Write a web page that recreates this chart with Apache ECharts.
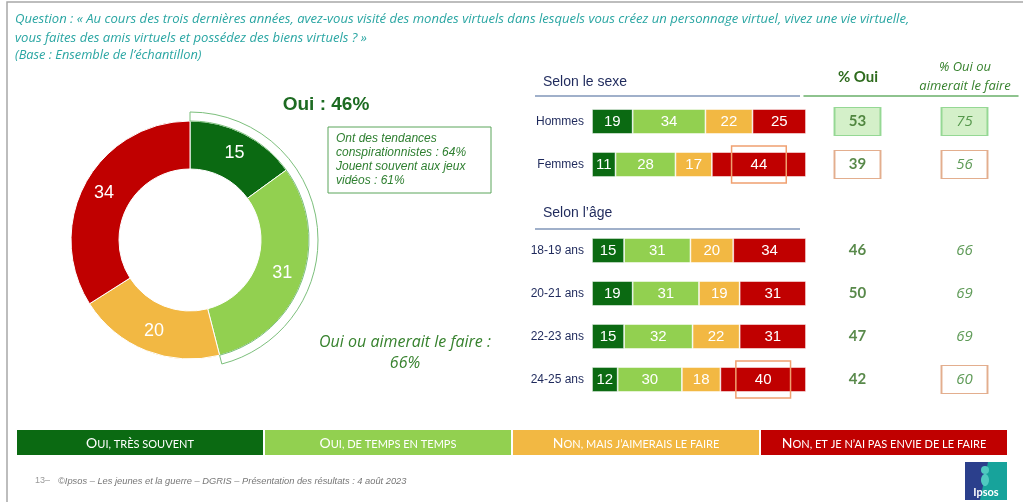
<!DOCTYPE html>
<html>
<head>
<meta charset="utf-8">
<script src="https://cdn.jsdelivr.net/npm/echarts@6.0.0/dist/echarts.min.js"></script>
<style>
  html, body { margin: 0; padding: 0; background: #fff; }
  #chart { width: 1023px; height: 502px; }
</style>
</head>
<body>
<div id="chart"></div>
<script>
// --- data ---
const legendLabels = ['Oui, très souvent', 'Oui, de temps en temps', 'Non, mais j’aimerais le faire', 'Non, et je n’ai pas envie de le faire']
const donutValues = [15, 31, 20, 34]

const sexRows = ['Hommes', 'Femmes']
const ageRows = ['18-19 ans', '20-21 ans', '22-23 ans', '24-25 ans']
const tresSouvent = [19, 11, 15, 19, 15, 12]
const deTempsEnTemps = [34, 28, 31, 31, 32, 30]
const nonMaisAimerait = [22, 17, 20, 19, 22, 18]
const nonPasEnvie = [25, 44, 34, 31, 31, 40]
const pctOui = [53, 39, 46, 50, 47, 42]
const pctOuiOuAimerait = [75, 56, 66, 69, 69, 60]

const ouiTotal = 46
const ouiOuAimeraitTotal = 66
const noteLines = ['Ont des tendances', 'conspirationnistes : 64%', 'Jouent souvent aux jeux', 'vidéos : 61%']
const questionLines = [
  'Question : « Au cours des trois dernières années, avez-vous visité des mondes virtuels dans lesquels vous créez un personnage virtuel, vivez une vie virtuelle,',
  'vous faites des amis virtuels et possédez des biens virtuels ? »'
]
const baseLine = '(Base : Ensemble de l’échantillon)'
const footer = '©Ipsos – Les jeunes et la guerre – DGRIS – Présentation des résultats : 4 août 2023'

// --- styles ---
const colors = ['#0b6a12', '#92d050', '#f2b843', '#c00000']
const navy = '#1f2a5c'
const darkGreen = '#1d6b22'
const midGreen = '#37822e'
const teal = '#2aa6a3'

const rows = [...sexRows, ...ageRows]
const categories = [...sexRows, '', ...ageRows]
const gap = (arr) => [...arr.slice(0, sexRows.length), '-', ...arr.slice(sexRows.length)]
const catIndex = (r) => categories.indexOf(r)

const redBoxRows = ['Femmes', '24-25 ans']
const ouiBox = { Hommes: 'green', Femmes: 'orange' }
const aimeraitBox = { Hommes: 'green', Femmes: 'orange', '24-25 ans': 'orange' }
const boxStyle = (kind) => {
  if (kind === 'green') return { color: '#c9ecbb', borderColor: '#7fcf7f', borderWidth: 1.5 }
  if (kind === 'orange') return { color: '#fff', borderColor: '#dc9a72', borderWidth: 1.5 }
  return { color: 'rgba(0,0,0,0)', borderWidth: 0 }
}

const smallCaps = (s) => {
  let out = ''
  let cur = ''
  let type = null
  for (const ch of s) {
    const t = ch !== ch.toLowerCase() ? 'b' : 's'
    if (t !== type) {
      if (cur) out += '{' + type + '|' + cur + '}'
      cur = ''
      type = t
    }
    cur += ch.toUpperCase()
  }
  if (cur) out += '{' + type + '|' + cur + '}'
  return out
}

const barSeries = [tresSouvent, deTempsEnTemps, nonMaisAimerait, nonPasEnvie].map((vals, k) => ({
  name: legendLabels[k],
  type: 'bar',
  stack: 'total',
  barWidth: 25,
  silent: true,
  itemStyle: { color: colors[k], borderColor: 'rgba(255,255,255,0.7)', borderWidth: 0.8 },
  label: {
    show: true,
    position: 'inside',
    color: '#fff',
    fontFamily: 'Liberation Sans',
    fontSize: 15
  },
  data: gap(vals).map((v, i) => {
    if (k === 3 && redBoxRows.includes(categories[i])) {
      return { value: v, label: { borderColor: '#f0a070', borderWidth: 1.5, padding: [11, 19] } }
    }
    return v
  })
}))

const columnSeries = [
  { vals: pctOui, boxes: ouiBox, x: 0, bold: true },
  { vals: pctOuiOuAimerait, boxes: aimeraitBox, x: 1, bold: false }
].map((c) => ({
  type: 'scatter',
  xAxisIndex: 1,
  yAxisIndex: 1,
  symbol: 'rect',
  symbolSize: [46, 28],
  silent: true,
  label: {
    show: true,
    position: 'inside',
    formatter: (p) => p.value[2],
    fontFamily: c.bold ? 'Lato' : 'Open Sans',
    fontSize: 15,
    fontWeight: c.bold ? 'bold' : 'normal',
    fontStyle: c.bold ? 'normal' : 'italic',
    color: c.bold ? '#2e6b1d' : midGreen
  },
  data: rows.map((r, i) => ({
    value: [c.x, catIndex(r), c.vals[i]],
    itemStyle: boxStyle(c.boxes[r])
  }))
}))

const graphic = [
  // slide frame
  { type: 'rect', shape: { x: 7, y: 2, width: 1040, height: 520 }, style: { fill: 'none', stroke: '#a8a8a8', lineWidth: 1.5 }, silent: true },
  { type: 'text', x: 15, y: 19, style: { text: questionLines[0], fill: teal, font: 'italic 13.1px Open Sans', verticalAlign: 'middle' } },
  { type: 'text', x: 15, y: 38, style: { text: questionLines[1], fill: teal, font: 'italic 13.1px Open Sans', verticalAlign: 'middle' } },
  { type: 'text', x: 15, y: 55, style: { text: baseLine, fill: teal, font: 'italic 12.8px Open Sans', verticalAlign: 'middle' } },
  // donut side
  { type: 'text', x: 326, y: 105, style: { text: 'Oui : ' + ouiTotal + '%', fill: darkGreen, font: 'bold 19px Liberation Sans', align: 'center', verticalAlign: 'middle' } },
  { type: 'rect', shape: { x: 328, y: 127, width: 163, height: 66 }, style: { fill: '#fff', stroke: '#5aa55a', lineWidth: 1 } },
  ...noteLines.map((t, i) => ({ type: 'text', x: 336, y: 139 + i * 14, style: { text: t, fill: '#2e7f30', font: 'italic 12px Liberation Sans', verticalAlign: 'middle' } })),
  { type: 'text', x: 405, y: 342, style: { text: 'Oui ou aimerait le faire :', fill: midGreen, font: 'italic 16px Open Sans', align: 'center', verticalAlign: 'middle' } },
  { type: 'text', x: 405, y: 363, style: { text: ouiOuAimeraitTotal + '%', fill: midGreen, font: 'italic 16px Open Sans', align: 'center', verticalAlign: 'middle' } },
  // right panel headings
  { type: 'text', x: 543, y: 82, style: { text: 'Selon le sexe', fill: navy, font: '14px Liberation Sans', verticalAlign: 'middle' } },
  { type: 'line', shape: { x1: 535, y1: 96, x2: 800, y2: 96 }, style: { stroke: '#8096b8', lineWidth: 1.5 } },
  { type: 'text', x: 543, y: 213, style: { text: 'Selon l’âge', fill: navy, font: '14px Liberation Sans', verticalAlign: 'middle' } },
  { type: 'line', shape: { x1: 535, y1: 229, x2: 800, y2: 229 }, style: { stroke: '#8096b8', lineWidth: 1.5 } },
  { type: 'text', x: 858, y: 77, style: { text: '% Oui', fill: '#2e6b1d', font: 'bold 15px Lato', align: 'center', verticalAlign: 'middle' } },
  { type: 'text', x: 965, y: 67, style: { text: '% Oui ou', fill: midGreen, font: 'italic 13px Open Sans', align: 'center', verticalAlign: 'middle' } },
  { type: 'text', x: 965, y: 86, style: { text: 'aimerait le faire', fill: midGreen, font: 'italic 13px Open Sans', align: 'center', verticalAlign: 'middle' } },
  // legend bar
  ...legendLabels.map((t, i) => ({ type: 'rect', shape: { x: 17 + i * 248, y: 430, width: 246, height: 25 }, style: { fill: colors[i] } })),
  ...legendLabels.map((t, i) => ({
    type: 'text', x: 140 + i * 248, y: 443,
    style: {
      text: smallCaps(t), fill: '#fff', align: 'center', verticalAlign: 'middle',
      rich: {
        b: { fontFamily: 'Lato', fontSize: 14, fill: '#fff', verticalAlign: 'bottom' },
        s: { fontFamily: 'Lato', fontSize: 11, fill: '#fff', verticalAlign: 'bottom' }
      }
    }
  })),
  // footer
  { type: 'text', x: 35, y: 481, style: { text: '13–', fill: '#9a9a9a', font: '9px Liberation Sans', verticalAlign: 'middle' } },
  { type: 'text', x: 58, y: 481, style: { text: footer, fill: '#777', font: 'italic 9.3px Liberation Sans', verticalAlign: 'middle' } },
  // Ipsos logo
  { type: 'rect', shape: { x: 965, y: 462, width: 42, height: 38 }, style: { fill: '#2b3f8c' } },
  { type: 'polygon', shape: { points: [[988, 462], [1007, 462], [1007, 500], [980, 500]] }, style: { fill: '#17a39b' } },
  { type: 'circle', shape: { cx: 985, cy: 470, r: 4 }, style: { fill: '#4fc9c0' } },
  { type: 'ellipse', shape: { cx: 985, cy: 480, rx: 4, ry: 6 }, style: { fill: '#4fc9c0' } },
  { type: 'text', x: 986, y: 492, style: { text: 'Ipsos', fill: '#fff', font: 'bold 11px Lato', align: 'center', verticalAlign: 'middle' } }
]

const chart = echarts.init(document.getElementById('chart'))
chart.setOption({
  animation: false,
  backgroundColor: '#fff',
  grid: [
    { left: 592, width: 214, top: 100, height: 301 },
    { left: 804, width: 214, top: 100, height: 301 }
  ],
  xAxis: [
    { gridIndex: 0, type: 'value', min: 0, max: 100, show: false },
    {
      gridIndex: 1,
      type: 'category',
      data: ['% Oui', '% Oui ou aimerait le faire'],
      position: 'top',
      offset: 4,
      axisLine: { lineStyle: { color: '#6ab06a', width: 1.5 } },
      axisTick: { show: false },
      axisLabel: { show: false }
    }
  ],
  yAxis: [
    {
      gridIndex: 0,
      type: 'category',
      data: categories,
      inverse: true,
      axisLine: { show: false },
      axisTick: { show: false },
      axisLabel: { color: navy, fontFamily: 'Liberation Sans', fontSize: 12, margin: 8 }
    },
    { gridIndex: 1, type: 'category', data: categories, inverse: true, show: false }
  ],
  series: [
    {
      type: 'pie',
      center: [190, 240],
      radius: [71, 119],
      startAngle: 90,
      silent: true,
      itemStyle: { borderColor: '#fff', borderWidth: 1 },
      label: { show: true, position: 'inside', formatter: '{c}', color: '#fff', fontFamily: 'Liberation Sans', fontSize: 18 },
      labelLine: { show: false },
      data: donutValues.map((v, i) => ({ name: legendLabels[i], value: v, itemStyle: { color: colors[i] } }))
    },
    {
      type: 'pie',
      center: [190, 240],
      radius: [119, 128],
      startAngle: 90,
      silent: true,
      label: { show: false },
      labelLine: { show: false },
      data: [
        { value: donutValues[0] + donutValues[1], itemStyle: { color: 'rgba(0,0,0,0)', borderColor: '#7cbf7c', borderWidth: 1 } },
        { value: donutValues[2] + donutValues[3], itemStyle: { color: 'rgba(0,0,0,0)', borderWidth: 0 } }
      ]
    },
    ...barSeries,
    ...columnSeries
  ],
  graphic
})
</script>
</body>
</html>
